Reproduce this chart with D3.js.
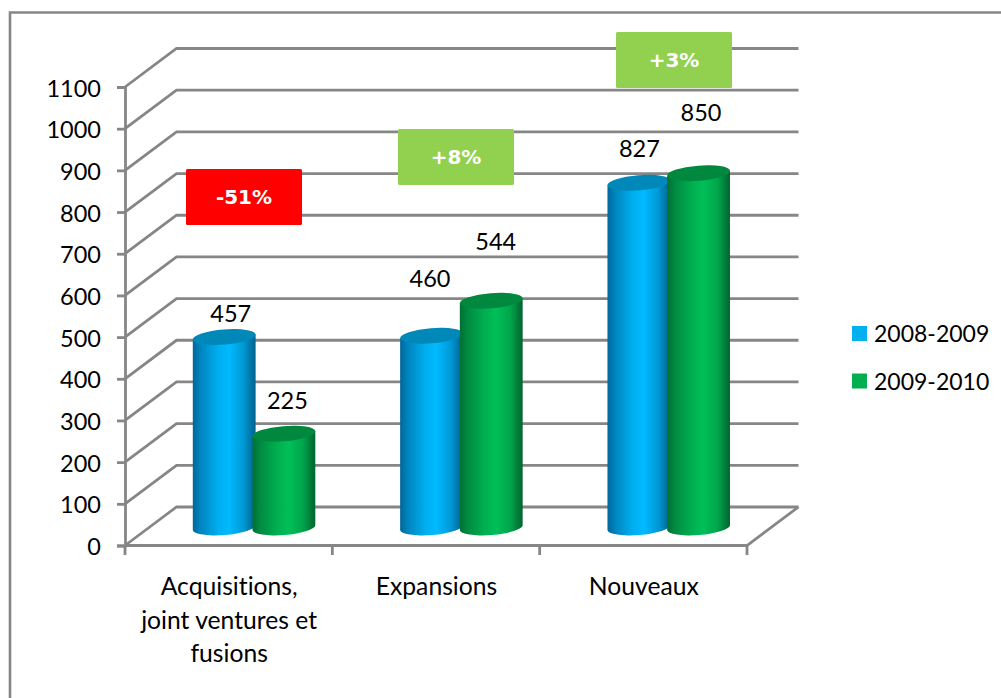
<!DOCTYPE html>
<html><head><meta charset="utf-8">
<script src="https://cdn.jsdelivr.net/npm/d3@7"></script>
<style>html,body{margin:0;padding:0;background:#fff}svg{display:block}text{font-family:Lato,sans-serif;fill:#000;font-variant-ligatures:none}</style>
</head><body><svg id="c" width="1001" height="698"></svg>
<script>
const categories = ["Acquisitions,|joint ventures et|fusions", "Expansions", "Nouveaux"];
const seriesNames = ["2008-2009", "2009-2010"];
const values2008 = [457, 460, 827];
const values2009 = [225, 544, 850];
const yTicks = [0,100,200,300,400,500,600,700,800,900,1000,1100];
const changeLabels = ["-51%", "+8%", "+3%"];
const changeColors = ["#ff0000", "#92d050", "#92d050"];

// layout
const W=1001,H=698, X0=125,X1=747, Y0=545.5,Y1=87, DX=51.5, DY=-38.5, GRID="#868686", FONT=23.5;
const svg=d3.select("#c");
const x=d3.scaleBand().domain(d3.range(categories.length)).range([X0,X1]);
const y=d3.scaleLinear().domain([0,1100]).range([Y0,Y1]);

// frame
svg.append("path").attr("d",`M10,${H} V12.5 H${W}`).attr("fill","none").attr("stroke",GRID).attr("stroke-width",2.6);

// walls / grid
const grid=svg.append("g").attr("fill","none").attr("stroke",GRID).attr("stroke-width",2.8);
grid.selectAll("path.g").data(yTicks).join("path").attr("class","g")
  .attr("d",v=>`M${X0},${y(v)} L${X0+DX},${y(v)+DY} H${X1+DX}`);
grid.append("path").attr("d",`M${X0},${Y0} H${X1} L${X1+DX},${Y0+DY}`);

// y axis
const gy=svg.append("g").attr("transform",`translate(${X0},0)`)
  .call(d3.axisLeft(y).tickValues(yTicks).tickFormat(d3.format("d")).tickSize(8).tickPadding(16));
gy.selectAll("path,line").attr("stroke",GRID).attr("stroke-width",2.8);
gy.selectAll("text").attr("font-family","Lato").attr("font-size",FONT).attr("fill","#000").attr("dy","0.39em");

// x ticks at category boundaries
svg.append("g").selectAll("line").data(d3.range(categories.length+1)).join("line")
  .attr("x1",i=>X0+i*x.step()).attr("x2",i=>X0+i*x.step()).attr("y1",Y0).attr("y2",Y0+9.5)
  .attr("stroke",GRID).attr("stroke-width",2.8);

// x labels
categories.forEach((c,i)=>{
  c.split("|").forEach((ln,j)=>{
    svg.append("text").attr("x",x(i)+x.step()/2+0.5).attr("y",595+j*33.5).attr("text-anchor","middle")
      .attr("font-size",24.7).text(ln);
  });
});

// gradients
const defs=svg.append("defs");
function grad(id,stops){
  const g=defs.append("linearGradient").attr("id",id).attr("x1","0").attr("x2","1").attr("y1","0").attr("y2","0");
  stops.forEach(s=>g.append("stop").attr("offset",s[0]).attr("stop-color",s[1]));
}
grad("b",[[0,"#00679c"],[.12,"#0084bd"],[.4,"#00aeef"],[.58,"#00baff"],[.8,"#009ad6"],[.95,"#006f9f"],[1,"#00618c"]]);
grad("g",[[0,"#006f33"],[.12,"#008a41"],[.4,"#00b050"],[.58,"#00bf58"],[.8,"#00a64b"],[.95,"#007436"],[1,"#00632e"]]);

// cylinders
const barW=63, barOff=67.7, barStep=59.7, rx=31.5, ry=7.6, tilt=-4.5, floorDY=-18;
const t=tilt*Math.PI/180, ex=rx*Math.cos(t), ey=-rx*Math.sin(t);
const series=[{vals:values2008,fill:"url(#b)",top:"#0088b8",key:0},{vals:values2009,fill:"url(#g)",top:"#00883e",key:1}];
const bars=svg.append("g");
const labels=[];
const labelNudge=[[[7,-24],[4,-34]],[[-1,-58],[5,-60]],[[1,-35],[3,-61]]];
d3.range(categories.length).forEach(i=>{
  series.forEach(s=>{
    const v=s.vals[i], cx=x(i)+barOff+s.key*barStep+barW/2, yt=y(v)+floorDY, yb=Y0+floorDY;
    bars.append("path").attr("fill",s.fill).attr("d",
      `M${cx-ex},${yt+ey} L${cx-ex},${yb+ey} A${rx},${ry} ${tilt} 0 0 ${cx+ex},${yb-ey} L${cx+ex},${yt-ey} Z`);
    bars.append("ellipse").attr("cx",0).attr("cy",0).attr("rx",rx).attr("ry",ry)
      .attr("transform",`translate(${cx},${yt}) rotate(${tilt})`).attr("fill",s.top);
    const n=labelNudge[i][s.key];
    labels.push({v,x:cx+n[0],y:yt+n[1]});
  });
});
svg.append("g").selectAll("text").data(labels).join("text")
  .attr("x",d=>d.x-0.5).attr("y",d=>d.y+1).attr("dy","0.35em").attr("text-anchor","middle")
  .attr("font-size",FONT).text(d=>d.v);

// change boxes
const boxLeft=[186,398,616], boxTop=[169,129,32];
changeLabels.forEach((c,i)=>{
  svg.append("rect").attr("x",boxLeft[i]).attr("y",boxTop[i]).attr("width",116).attr("height",56).attr("rx",1.5)
    .attr("fill",changeColors[i]);
  svg.append("text").attr("x",boxLeft[i]+58).attr("y",boxTop[i]+28).attr("dy","0.36em").attr("text-anchor","middle")
    .style("font-family","'DejaVu Sans'").style("font-weight","bold").style("fill","#fff").attr("font-size",20).text(c);
});

// legend
const legendColors=["#00b0f0","#00b050"];
seriesNames.forEach((n,i)=>{
  const cy=333.5+i*47.5;
  svg.append("rect").attr("x",852).attr("y",cy-7.5).attr("width",15).attr("height",15).attr("fill",legendColors[i]);
  svg.append("text").attr("x",874).attr("y",cy+0.5).attr("dy","0.35em").attr("font-size",23).text(n);
});
</script></body></html>
